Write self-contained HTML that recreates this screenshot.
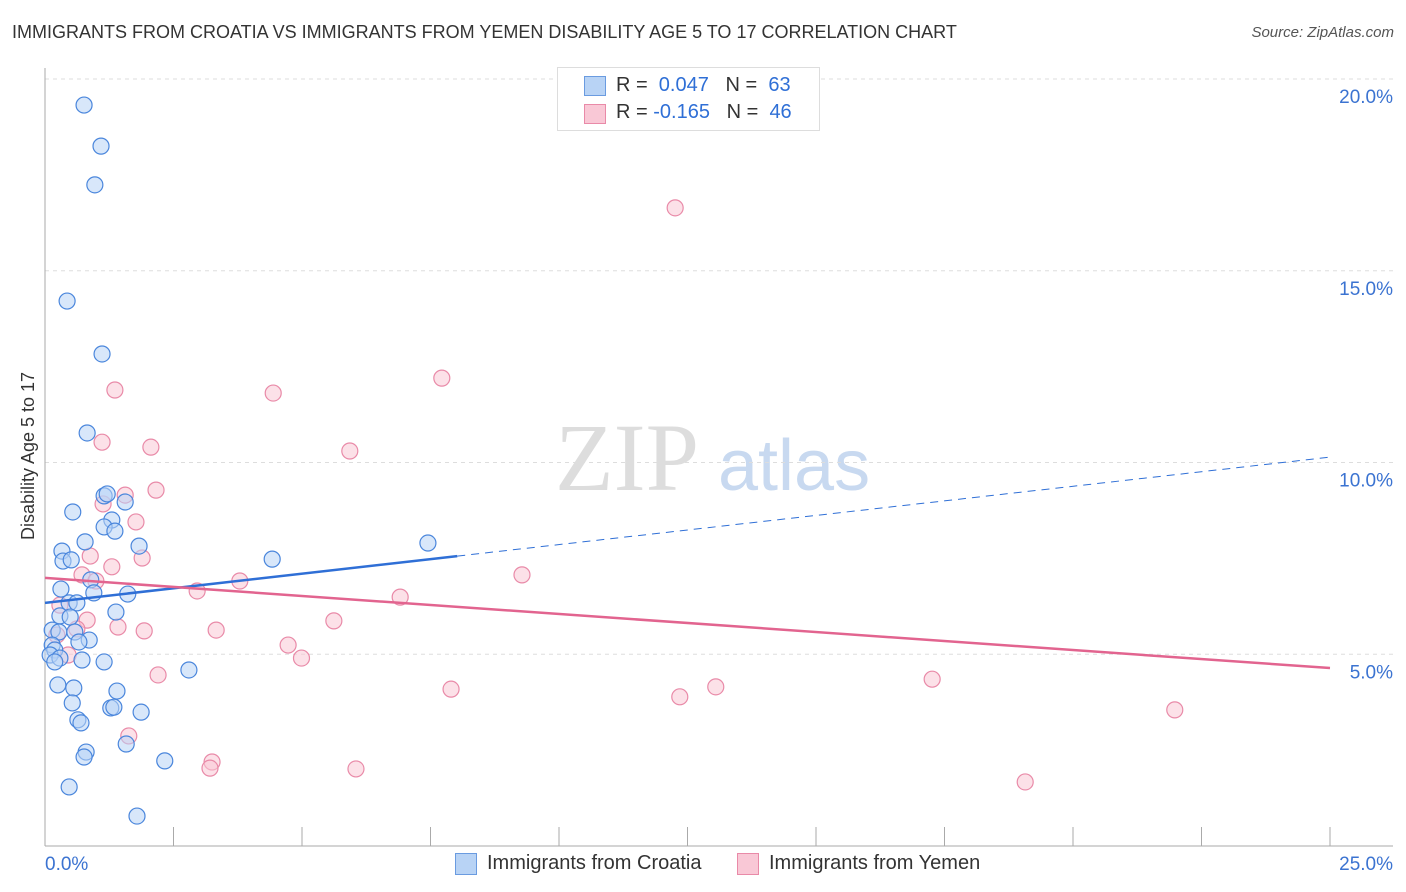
<!DOCTYPE html>
<html><head><meta charset="utf-8"><style>
body{margin:0;background:#fff;font-family:"Liberation Sans",sans-serif}
#wrap{position:relative;width:1406px;height:892px;overflow:hidden}
.t{position:absolute;white-space:nowrap}
</style></head><body>
<div id="wrap">
<div class="t" style="left:12px;top:22px;font-size:18px;color:#333">IMMIGRANTS FROM CROATIA VS IMMIGRANTS FROM YEMEN DISABILITY AGE 5 TO 17 CORRELATION CHART</div>
<div class="t" style="right:12px;top:24px;font-size:15px;color:#555;font-style:italic">Source: ZipAtlas.com</div>
<svg id="svg" width="1406" height="892" style="position:absolute;left:0;top:0">
<text x="555" y="490" font-family="Liberation Serif,serif" font-size="96" fill="#ddd">ZIP</text>
<text x="718" y="490" font-family="Liberation Sans,sans-serif" font-size="72" fill="#c8d9f0">atlas</text>
<text transform="translate(34,456) rotate(-90)" text-anchor="middle" font-size="18" fill="#333">Disability Age 5 to 17</text>
</svg>
<div style="position:absolute;left:557px;top:67px;width:261px;height:62px;border:1px solid #ddd;background:#fff;font-size:20px;color:#333">
<div style="position:absolute;left:26px;top:8px;width:20px;height:18px;background:#b8d3f5;border:1px solid #6a9be0"></div>
<div class="t" style="left:58px;top:6px">R = &nbsp;<span style="color:#2f6fd6">0.047</span> &nbsp;&nbsp;N = &nbsp;<span style="color:#2f6fd6">63</span></div>
<div style="position:absolute;left:26px;top:36px;width:20px;height:18px;background:#f9c8d6;border:1px solid #e98aa8"></div>
<div class="t" style="left:58px;top:33px">R = <span style="color:#2f6fd6">-0.165</span> &nbsp;&nbsp;N = &nbsp;<span style="color:#2f6fd6">46</span></div>
</div>
<div>
<div style="position:absolute;left:455px;top:853px;width:20px;height:20px;background:#b8d3f5;border:1px solid #6a9be0"></div>
<div class="t" style="left:487px;top:852px;font-size:20px;color:#333">Immigrants from Croatia</div>
<div style="position:absolute;left:737px;top:853px;width:20px;height:20px;background:#f9c8d6;border:1px solid #e98aa8"></div>
<div class="t" style="left:769px;top:852px;font-size:20px;color:#333">Immigrants from Yemen</div>
</div>
</div>
<script>
const blueX=[0.76,1.09,0.97,0.43,1.11,0.82,1.15,1.21,1.56,0.54,1.30,1.15,1.36,0.78,1.83,0.33,0.35,0.51,4.42,7.45,0.31,0.89,0.95,1.61,0.47,0.62,1.38,0.29,0.49,0.14,0.27,0.58,0.86,0.66,0.14,0.19,0.10,0.29,0.19,0.72,1.15,2.80,0.25,0.56,1.40,0.53,1.28,1.34,1.87,0.64,0.70,0.80,0.76,1.58,2.33,0.47,1.79];
const blueY=[19.32,18.25,17.24,14.21,12.83,10.77,9.13,9.18,8.97,8.71,8.50,8.32,8.21,7.93,7.82,7.69,7.43,7.46,7.48,7.90,6.70,6.94,6.60,6.57,6.34,6.34,6.10,6.00,5.97,5.63,5.58,5.58,5.37,5.32,5.24,5.11,4.98,4.90,4.80,4.85,4.80,4.59,4.20,4.12,4.04,3.73,3.60,3.62,3.49,3.29,3.21,2.45,2.32,2.66,2.22,1.54,0.78];
const pinkX=[12.26,7.72,4.44,1.36,1.11,2.06,5.93,2.16,1.56,1.13,1.77,0.88,1.89,1.30,0.72,9.28,0.99,3.79,2.96,6.91,0.29,0.82,5.62,1.42,1.93,3.33,0.62,0.23,4.73,4.99,0.45,2.20,17.26,13.05,7.90,12.35,21.98,1.63,3.25,3.21,6.05,19.07];
const pinkY=[16.64,12.20,11.81,11.89,10.53,10.40,10.30,9.28,9.15,8.92,8.45,7.56,7.51,7.28,7.07,7.07,6.91,6.91,6.65,6.49,6.28,5.89,5.87,5.71,5.61,5.63,5.66,5.50,5.24,4.90,4.98,4.46,4.35,4.15,4.09,3.89,3.55,2.87,2.19,2.03,2.01,1.67];
const blueTrend=[6.34,10.14]; const blueSolidEnd=8.02;
const pinkTrend=[6.99,4.64];
const yTicks=[5,10,15,20];
const xTickLabels=["0.0%","25.0%"];
const X0=45,X1=1330,Y0=846,PPY=38.35;
const sx=v=>X0+(v/25)*(X1-X0);
const sy=v=>Y0-v*PPY;
const svg=document.getElementById('svg');
const NS='http://www.w3.org/2000/svg';
function mk(tag,attrs){const e=document.createElementNS(NS,tag);for(const k in attrs)e.setAttribute(k,attrs[k]);svg.appendChild(e);return e;}
yTicks.forEach(t=>{
 const g=mk('line',{x1:X0,x2:1393,y1:sy(t),y2:sy(t),stroke:'#ddd','stroke-dasharray':'4,4'});
 
 
 const l=mk('text',{x:1393,y:sy(t)+24,'text-anchor':'end','font-size':19,fill:'#3b73d1'});
 l.textContent=t.toFixed(1)+'%';
 
 
});
const ax=mk('line',{x1:X0,x2:X0,y1:68,y2:Y0,stroke:'#aaa'});


const bx=mk('line',{x1:X0,x2:1393,y1:Y0,y2:Y0,stroke:'#aaa'});


for(let i=1;i<=10;i++){
 const tk=mk('line',{x1:sx(i*2.5),x2:sx(i*2.5),y1:827,y2:Y0,stroke:'#aaa'});
 
 
}
const xl0=mk('text',{x:45,y:870,'font-size':19,fill:'#3b73d1'});xl0.textContent=xTickLabels[0];


const xl1=mk('text',{x:1393,y:870,'font-size':19,fill:'#3b73d1','text-anchor':'end'});xl1.textContent=xTickLabels[1];


function dots(xs,ys,fill,stroke,name){xs.forEach((x,i)=>{
 const c=mk('circle',{cx:sx(x),cy:sy(ys[i]),r:8,fill:fill,'fill-opacity':0.55,stroke:stroke,'stroke-width':1.2});
 
 
});}
dots(pinkX,pinkY,'#f9c8d6','#e98aa8','point-yemen');
dots(blueX,blueY,'#b8d3f5','#4a86dc','point-croatia');
const by=x=>blueTrend[0]+(blueTrend[1]-blueTrend[0])*x/25;
const bl=mk('line',{x1:sx(0),y1:sy(by(0)),x2:sx(blueSolidEnd),y2:sy(by(blueSolidEnd)),stroke:'#2f6fd6','stroke-width':2.5});


const bd=mk('line',{x1:sx(blueSolidEnd),y1:sy(by(blueSolidEnd)),x2:sx(25),y2:sy(by(25)),stroke:'#2f6fd6','stroke-width':1,'stroke-dasharray':'8,6'});


const pl=mk('line',{x1:sx(0),y1:sy(pinkTrend[0]),x2:sx(25),y2:sy(pinkTrend[1]),stroke:'#e2648f','stroke-width':2.5});


</script>
</body></html>
